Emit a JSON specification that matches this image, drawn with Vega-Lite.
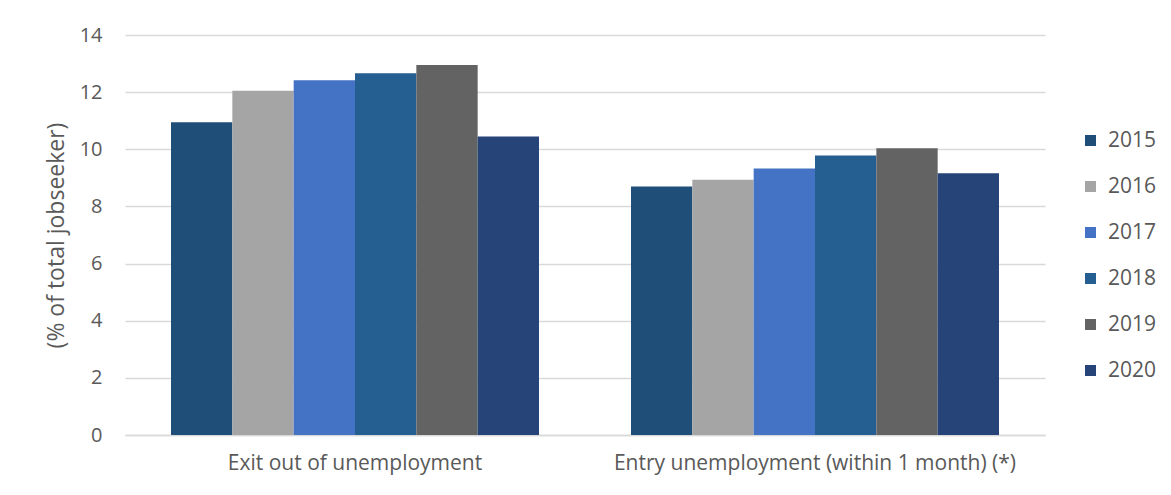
{
  "$schema": "https://vega.github.io/schema/vega-lite/v6.json",
  "width": 920,
  "height": 400,
  "autosize": {"type": "none"},
  "padding": {"left": 125, "top": 35, "right": 126, "bottom": 60},
  "background": "white",
  "config": {
    "font": "Open Sans",
    "view": {"stroke": null}
  },
  "data": {
    "values": [
      {"indicator": "Exit out of unemployment", "year": "2015", "value": 10.95},
      {"indicator": "Exit out of unemployment", "year": "2016", "value": 12.05},
      {"indicator": "Exit out of unemployment", "year": "2017", "value": 12.42},
      {"indicator": "Exit out of unemployment", "year": "2018", "value": 12.66},
      {"indicator": "Exit out of unemployment", "year": "2019", "value": 12.95},
      {"indicator": "Exit out of unemployment", "year": "2020", "value": 10.45},
      {"indicator": "Entry unemployment (within 1 month) (*)", "year": "2015", "value": 8.7},
      {"indicator": "Entry unemployment (within 1 month) (*)", "year": "2016", "value": 8.93},
      {"indicator": "Entry unemployment (within 1 month) (*)", "year": "2017", "value": 9.33},
      {"indicator": "Entry unemployment (within 1 month) (*)", "year": "2018", "value": 9.78},
      {"indicator": "Entry unemployment (within 1 month) (*)", "year": "2019", "value": 10.04},
      {"indicator": "Entry unemployment (within 1 month) (*)", "year": "2020", "value": 9.16}
    ]
  },
  "mark": {"type": "bar"},
  "encoding": {
    "x": {
      "field": "indicator",
      "type": "nominal",
      "sort": ["Exit out of unemployment", "Entry unemployment (within 1 month) (*)"],
      "scale": {"paddingInner": 0.2, "paddingOuter": 0.1},
      "axis": {
        "title": null,
        "labelAngle": 0,
        "labelFontSize": 21,
        "labelLimit": 0,
        "labelColor": "#595959",
        "labelPadding": 17,
        "ticks": false,
        "domainColor": "#d9d9d9",
        "domainWidth": 1.5
      }
    },
    "xOffset": {
      "field": "year",
      "type": "nominal",
      "scale": {"paddingInner": 0, "paddingOuter": 0}
    },
    "y": {
      "field": "value",
      "type": "quantitative",
      "scale": {"domain": [0, 14]},
      "axis": {
        "title": "(% of total jobseeker)",
        "titleFontSize": 23,
        "titleFontWeight": "normal",
        "titleColor": "#595959",
        "titlePadding": 11,
        "values": [0, 2, 4, 6, 8, 10, 12, 14],
        "labelFontSize": 20,
        "labelColor": "#595959",
        "labelPadding": 23,
        "ticks": false,
        "domain": false,
        "gridColor": "#d9d9d9",
        "gridWidth": 1.5
      }
    },
    "color": {
      "field": "year",
      "type": "nominal",
      "scale": {
        "domain": ["2015", "2016", "2017", "2018", "2019", "2020"],
        "range": ["#1f4e79", "#a5a5a5", "#4472c4", "#255e91", "#636363", "#264478"]
      },
      "legend": {
        "title": null,
        "orient": "none",
        "legendX": 955,
        "legendY": 95,
        "symbolType": "square",
        "symbolSize": 121,
        "symbolStrokeWidth": 0,
        "labelFontSize": 21,
        "labelColor": "#595959",
        "labelOffset": 7,
        "rowPadding": 24
      }
    }
  }
}
